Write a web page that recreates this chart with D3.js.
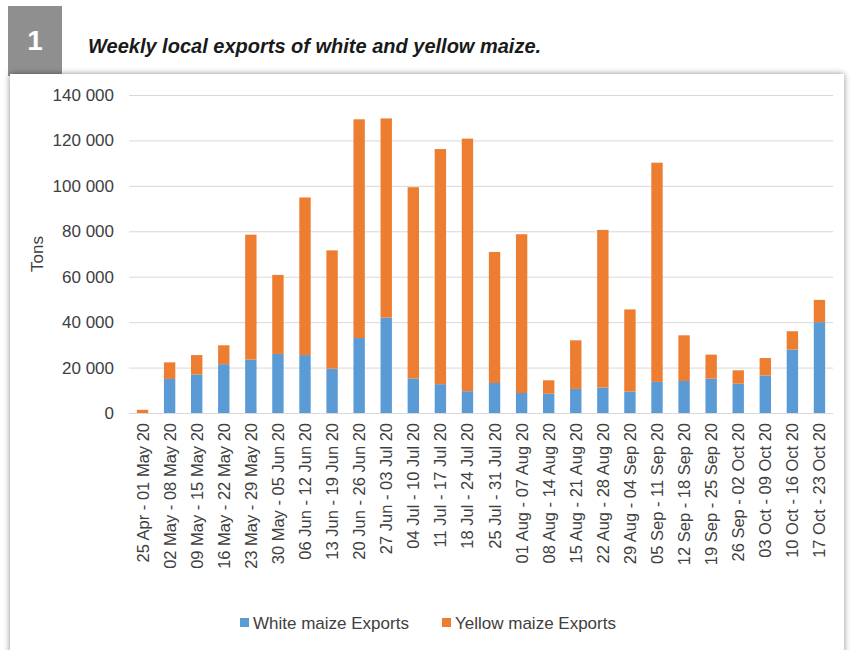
<!DOCTYPE html>
<html>
<head>
<meta charset="utf-8">
<script src="https://cdn.jsdelivr.net/npm/d3@7"></script>
<style>
  body { margin: 0; background: #fff; font-family: "Liberation Sans", Arial, sans-serif; }
</style>
</head>
<body>
<div id="chart"></div>
<script>
// Weekly local exports of white and yellow maize (tons)
const weeks = [
  '25 Apr - 01 May 20', '02 May - 08 May 20', '09 May - 15 May 20', '16 May - 22 May 20',
  '23 May - 29 May 20', '30 May - 05 Jun 20', '06 Jun - 12 Jun 20', '13 Jun - 19 Jun 20',
  '20 Jun - 26 Jun 20', '27 Jun - 03 Jul 20', '04 Jul - 10 Jul 20', '11 Jul - 17 Jul 20',
  '18 Jul - 24 Jul 20', '25 Jul - 31 Jul 20', '01 Aug - 07 Aug 20', '08 Aug - 14 Aug 20',
  '15 Aug - 21 Aug 20', '22 Aug - 28 Aug 20', '29 Aug - 04 Sep 20', '05 Sep - 11 Sep 20',
  '12 Sep - 18 Sep 20', '19 Sep - 25 Sep 20', '26 Sep - 02 Oct 20', '03 Oct - 09 Oct 20',
  '10 Oct - 16 Oct 20', '17 Oct - 23 Oct 20'
];
const whiteMaize = [
  0, 15000, 17000, 21500, 23500, 26000, 25500, 19500,
  33000, 42000, 15200, 12700, 9600, 13200, 8800, 8500,
  10600, 11200, 9400, 13700, 14100, 15100, 12900, 16500,
  27900, 40000
];
const yellowMaize = [
  1400, 7300, 8500, 8300, 55000, 34800, 69400, 52100,
  96300, 87700, 84200, 103500, 111200, 57700, 69900, 5900,
  21400, 69400, 36200, 96500, 20100, 10600, 5900, 7700,
  8100, 9800
];
const seriesNames = ['White maize Exports', 'Yellow maize Exports'];
const seriesColors = ['#5b9bd5', '#ed7d31'];
const yTicks = [0, 20000, 40000, 60000, 80000, 100000, 120000, 140000];

const W = 852, H = 650;
const svg = d3.select('#chart').append('svg')
  .attr('width', W).attr('height', H);

// header block
svg.append('rect').attr('x', 8).attr('y', 6).attr('width', 54).attr('height', 70).attr('fill', '#8f8f8f');
svg.append('text').attr('x', 35).attr('y', 50).attr('text-anchor', 'middle')
  .attr('fill', '#fff').style('font-size', '28px').style('font-weight', 'bold').text('1');
svg.append('text').attr('x', 88).attr('y', 53)
  .attr('fill', '#1a1a1a').style('font-size', '20px').style('font-weight', 'bold').style('font-style', 'italic')
  .text('Weekly local exports of white and yellow maize.');

// card with soft shadow
const defs = svg.append('defs');
const f = defs.append('filter').attr('id', 'sh').attr('x', '-5%').attr('y', '-5%').attr('width', '110%').attr('height', '110%');
f.append('feDropShadow').attr('dx', 0).attr('dy', 0).attr('stdDeviation', 3).attr('flood-color', '#000').attr('flood-opacity', 0.45);
svg.append('rect').attr('x', 10).attr('y', 74).attr('width', 834).attr('height', 590)
  .attr('fill', '#fff').attr('filter', 'url(#sh)');

const margin = { left: 129, right: 19, top: 95, bottom: 237 };
const x = d3.scaleBand().domain(weeks).range([margin.left, W - margin.right]).paddingInner(0.58).paddingOuter(0.29);
const y = d3.scaleLinear().domain([0, 140000]).range([H - margin.bottom, margin.top]);

const fmt = v => d3.format(',')(v).replace(/,/g, ' ');

// gridlines
svg.append('g').selectAll('line').data(yTicks).join('line')
  .attr('x1', margin.left).attr('x2', W - margin.right)
  .attr('y1', d => y(d) + 0.5).attr('y2', d => y(d) + 0.5)
  .attr('stroke', '#d9d9d9').attr('stroke-width', 1);

// y tick labels
svg.append('g').selectAll('text').data(yTicks).join('text')
  .attr('x', 114).attr('y', d => y(d)).attr('dy', '0.35em')
  .attr('text-anchor', 'end').attr('fill', '#404040').style('font-size', '17px')
  .text(fmt);

svg.append('text').attr('transform', `translate(43,${y(70000)}) rotate(-90)`)
  .attr('text-anchor', 'middle').attr('fill', '#404040').style('font-size', '17px').text('Tons');

// stacked bars
const rows = weeks.map((w, i) => ({ week: w, white: whiteMaize[i], yellow: yellowMaize[i] }));
const stack = d3.stack().keys(['white', 'yellow'])(rows);
svg.append('g').selectAll('g').data(stack).join('g')
  .attr('fill', (d, i) => seriesColors[i])
  .selectAll('rect').data(d => d).join('rect')
  .attr('x', d => x(d.data.week))
  .attr('width', x.bandwidth())
  .attr('y', d => y(d[1]))
  .attr('height', d => y(d[0]) - y(d[1]));

// x labels
svg.append('g').selectAll('text').data(weeks).join('text')
  .attr('transform', d => `translate(${x(d) + x.bandwidth() / 2 + 6},${y(0) + 10}) rotate(-90)`)
  .attr('text-anchor', 'end').attr('fill', '#404040').style('font-size', '16.5px')
  .text(d => d);

// legend
const legend = svg.append('g');
const lx = [240, 442];
seriesNames.forEach((n, i) => {
  legend.append('rect').attr('x', lx[i]).attr('y', 618).attr('width', 9).attr('height', 9).attr('fill', seriesColors[i]);
  legend.append('text').attr('x', lx[i] + 13).attr('y', 623).attr('dy', '0.35em')
    .attr('fill', '#404040').style('font-size', '17px').text(n);
});
</script>
</body>
</html>
